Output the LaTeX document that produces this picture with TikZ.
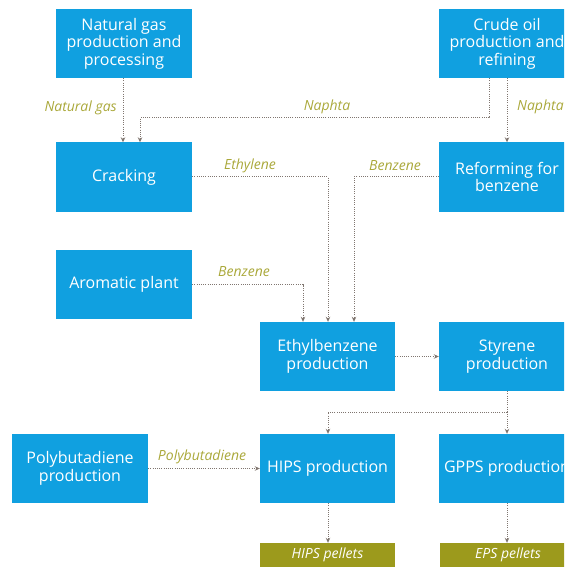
\documentclass[tikz,border=0pt]{standalone}
\usepackage{fontspec}
\setmainfont{Open Sans}
\usetikzlibrary{arrows.meta}
\definecolor{procblue}{RGB}{16,160,224}
\definecolor{pelletolive}{RGB}{156,154,28}
\definecolor{flowlabel}{RGB}{170,168,58}
\definecolor{flowline}{RGB}{128,118,112}
\tikzset{
  x=1pt, y=-1pt,
  proc/.style={fill=procblue, text=white, minimum width=136pt, minimum height=69pt,
    inner sep=0pt, align=center, font=\fontsize{16}{17.5}\selectfont},
  pellet/.style={fill=pelletolive, text=white, minimum width=136pt, minimum height=24pt,
    inner sep=0pt, font=\fontsize{14}{16}\selectfont\itshape},
  flow/.style={draw=flowline, line width=1pt, dash pattern=on 1pt off 1.2pt,
    -{Stealth[length=5pt,width=4.5pt,flowline]}},
  link/.style={draw=flowline, line width=1pt, dash pattern=on 1pt off 1.2pt},
  tag/.style={text=flowlabel, inner sep=0pt, font=\fontsize{14}{16}\selectfont\itshape}
}
\begin{document}
\begin{tikzpicture}
\useasboundingbox (0,0) rectangle (564,569);
\clip (0,0) rectangle (564,569);

% process boxes
\node[proc] (ng) at (124,43.5) {Natural gas\\production and\\processing};
\node[proc] (crude) at (507,43.5) {Crude oil\\production and\\refining};
\node[proc] (crack) at (124,177) {Cracking};
\node[proc] (reform) at (507,177) {Reforming for\\benzene};
\node[proc] (arom) at (124,284.5) {Aromatic plant};
\node[proc, minimum width=135pt] (ethb) at (327.5,356.5) {Ethylbenzene\\production};
\node[proc] (styr) at (507,356.5) {Styrene\\production};
\node[proc] (poly) at (80,468.5) {Polybutadiene\\production};
\node[proc, minimum width=135pt] (hips) at (327.5,468.5) {HIPS production};
\node[proc] (gpps) at (507,468.5) {GPPS production};

% end products
\node[pellet, minimum width=135pt] (hipsp) at (327.5,555) {HIPS pellets};
\node[pellet] (epsp) at (508,555) {EPS pellets};

% routing points
\coordinate (nph) at (140,118);
\coordinate (eth) at (328,177);
\coordinate (bzr) at (354,177);
\coordinate (bza) at (303,284.5);
\coordinate (split) at (507,412);
\coordinate (hipsin) at (328,412);

% flows
\draw[flow] (ng.south -| 123,0) -- (crack.north -| 123,0);
\draw[flow] (crude.south -| 489,0) |- (nph) -- (nph |- crack.north);
\draw[flow] (crude.south) -- (reform.north);
\draw[flow] (crack.east) -- (eth) -- (eth |- ethb.north);
\draw[flow] (reform.west) -- (bzr) -- (bzr |- ethb.north);
\draw[flow] (arom.east) -- (bza) -- (bza |- ethb.north);
\draw[flow] (ethb.east) -- (styr.west);
\draw[link] (styr.south) -- (split);
\draw[flow] (split) -- (hipsin) -- (hipsin |- hips.north);
\draw[flow] (split) -- (gpps.north);
\draw[flow] (poly.east) -- (hips.west);
\draw[flow] (hips.south -| hipsin) -- (hipsp.north -| hipsin);
\draw[flow] (gpps.south) -- (epsp.north -| gpps.south);

% flow labels
\node[tag, anchor=east] (lng) at (117,108) {Natural gas};
\node[tag] (lnph) at (327,107) {Naphta};
\node[tag, anchor=west] (lnpr) at (517,107) {Naphta};
\node[tag] (leth) at (250,166) {Ethylene};
\node[tag] (lbzr) at (395,166) {Benzene};
\node[tag] (lbza) at (244,272) {Benzene};
\node[tag] (lpb) at (202,457) {Polybutadiene};
\end{tikzpicture}
\end{document}
